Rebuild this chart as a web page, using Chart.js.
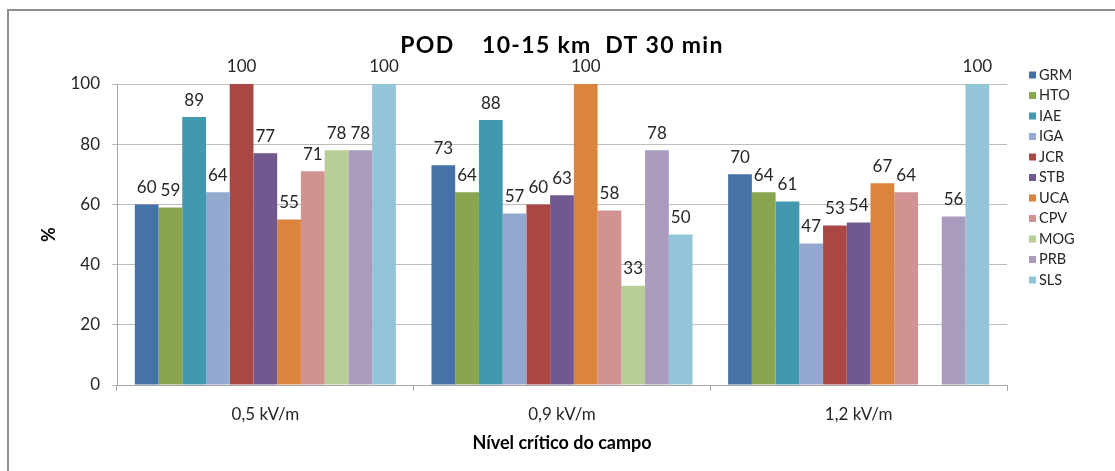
<!DOCTYPE html>
<html>
<head>
<meta charset="utf-8">
<script src="https://cdn.jsdelivr.net/npm/chart.js@4/dist/chart.umd.min.js"></script>
<style>
  body { margin: 0; background: #fff; overflow: hidden; }
  #wrap { position: relative; width: 1115px; height: 471px; }
  #frame { position: absolute; left: 7px; top: 9px; width: 1130px; height: 480px; border: 2px solid #8f8f8f; box-sizing: border-box; }
  #chart { position: absolute; left: 0; top: 0; }
</style>
</head>
<body>
<div id="wrap">
  <div id="frame"></div>
  <canvas id="chart" width="1115" height="471"></canvas>
</div>
<script>
const categories = ['0,5 kV/m', '0,9 kV/m', '1,2 kV/m'];
const stations = ['GRM', 'HTO', 'IAE', 'IGA', 'JCR', 'STB', 'UCA', 'CPV', 'MOG', 'PRB', 'SLS'];
const colors = ['#4572a7', '#89a54e', '#4198af', '#93a9cf', '#aa4643', '#71588f',
                '#db843d', '#d19392', '#b9cd96', '#a99bbd', '#92c5d8'];

// POD (%) per station, one value per field level
const GRM = [60, 73, 70];
const HTO = [59, 64, 64];
const IAE = [89, 88, 61];
const IGA = [64, 57, 47];
const JCR = [100, 60, 53];
const STB = [77, 63, 54];
const UCA = [55, 100, 67];
const CPV = [71, 58, 64];
const MOG = [78, 33, null];
const PRB = [78, 78, 56];
const SLS = [100, 50, 100];
const series = [GRM, HTO, IAE, IGA, JCR, STB, UCA, CPV, MOG, PRB, SLS];

const yTicks = [0, 20, 40, 60, 80, 100];
const chartTitle = 'POD    10-15 km  DT 30 min';

const FONT = 'Lato, "Open Sans", sans-serif';
const TEXT = '#262626';

// title centred over the plot area
const plotTitle = {
  id: 'plotTitle',
  afterDraw(chart) {
    const ctx = chart.ctx;
    const a = chart.chartArea;
    ctx.save();
    ctx.font = 'bold 23px ' + FONT;
    ctx.letterSpacing = '1.3px';
    ctx.fillStyle = '#000';
    ctx.textAlign = 'center';
    ctx.textBaseline = 'middle';
    ctx.fillText(chartTitle, (a.left + a.right) / 2, 46);
    ctx.restore();
  }
};

// value labels above each bar
const barLabels = {
  id: 'barLabels',
  afterDatasetsDraw(chart) {
    const ctx = chart.ctx;
    ctx.save();
    ctx.font = '17px ' + FONT;
    ctx.fillStyle = TEXT;
    ctx.textAlign = 'center';
    ctx.textBaseline = 'middle';
    chart.data.datasets.forEach((ds, i) => {
      chart.getDatasetMeta(i).data.forEach((bar, j) => {
        const v = ds.data[j];
        if (v == null) return;
        ctx.fillText(String(v), bar.x, bar.y - 17);
      });
    });
    ctx.restore();
  }
};

// legend column on the right
const sideLegend = {
  id: 'sideLegend',
  afterDraw(chart) {
    const ctx = chart.ctx;
    ctx.save();
    ctx.font = '14.5px ' + FONT;
    ctx.textBaseline = 'middle';
    ctx.textAlign = 'left';
    chart.data.datasets.forEach((ds, i) => {
      const y = 75 + i * 20.5;
      ctx.fillStyle = ds.backgroundColor;
      ctx.fillRect(1029, y - 3.5, 7, 7);
      ctx.fillStyle = TEXT;
      ctx.fillText(ds.label, 1039, y);
    });
    ctx.restore();
  }
};

new Chart(document.getElementById('chart'), {
  type: 'bar',
  data: {
    labels: categories,
    datasets: stations.map((name, i) => ({
      label: name,
      data: series[i],
      backgroundColor: colors[i],
      borderWidth: 0,
      categoryPercentage: 0.88,
      barPercentage: 1.0
    }))
  },
  options: {
    responsive: false,
    animation: false,
    devicePixelRatio: 1,
    layout: { padding: { top: 84, right: 108, bottom: 0, left: 0 } },
    plugins: {
      legend: { display: false },
      tooltip: { enabled: false },
      title: { display: false }
    },
    scales: {
      x: {
        grid: { drawOnChartArea: false, drawTicks: true, tickLength: 6, color: '#a6a6a6' },
        border: { color: '#a6a6a6', width: 1 },
        ticks: { color: TEXT, font: { family: FONT, size: 17 }, padding: 13 },
        title: {
          display: true,
          text: 'Nível crítico do campo',
          color: '#000',
          font: { family: FONT, size: 18, weight: 'bold' },
          padding: { top: 0, bottom: 17 }
        },
        afterFit(scale) { scale.height = 86; }
      },
      y: {
        min: 0,
        max: 100,
        afterBuildTicks(scale) { scale.ticks = yTicks.map(v => ({ value: v })); },
        grid: { color: '#bdbdbd', tickLength: 5, drawTicks: true },
        border: { color: '#a6a6a6', width: 1 },
        ticks: { color: TEXT, font: { family: FONT, size: 17 }, padding: 12 },
        title: {
          display: true,
          text: '%',
          color: '#000',
          font: { family: FONT, size: 18, weight: 'bold' },
          padding: { top: 38, bottom: 0 }
        },
        afterFit(scale) { scale.width = 117; }
      }
    }
  },
  plugins: [plotTitle, barLabels, sideLegend]
});
</script>
</body>
</html>
